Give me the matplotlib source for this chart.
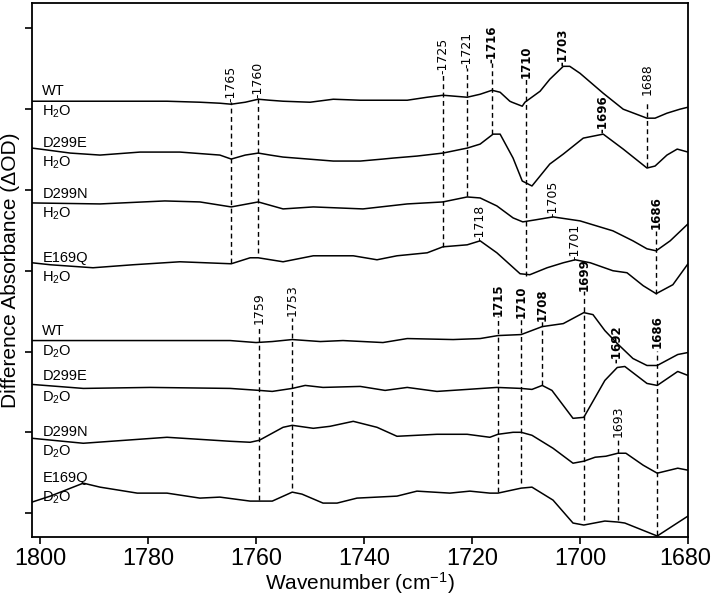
import matplotlib
matplotlib.use("Agg")
import matplotlib.pyplot as plt
import matplotlib.transforms as mtransforms
import numpy as np

plt.rcParams['font.family'] = ['Liberation Sans', 'DejaVu Sans']
plt.rcParams['mathtext.default'] = 'regular'

# ---------------- data (wavenumber in cm-1, signal in arbitrary stacked units) -------------
wt_h2o_x = [1801.5, 1788.9, 1776.5, 1770.4, 1766.7, 1764.6, 1762.0, 1759.6, 1757.5, 1755.0, 1750.0, 1745.7,
            1740.7, 1737.6, 1732.0, 1728.3, 1725.4, 1720.9, 1718.5, 1716.3, 1714.8, 1713.0, 1712.6, 1710.7,
            1710.2, 1707.4, 1705.6, 1703.1, 1701.9, 1700.0, 1695.7, 1692.0, 1687.6, 1686.1, 1683.9, 1681.5, 1680.0]
wt_h2o_y = [413, 413, 413, 412, 411, 410, 412, 415, 414, 413, 412, 415,
            414, 414, 414, 417, 419, 417, 420, 424, 422, 413, 412, 408,
            412, 423, 435, 448, 448, 441, 421, 405, 396, 396, 401, 405, 407]

d299e_h2o_x = [1801.5, 1800.0, 1794.4, 1788.9, 1781.5, 1774.1, 1766.7, 1764.6, 1762.0, 1759.6, 1757.4, 1755.0,
               1745.7, 1740.7, 1736.5, 1734.6, 1730.2, 1725.4, 1720.9, 1718.5, 1716.1, 1714.8, 1712.4, 1710.7,
               1708.9, 1705.6, 1703.1, 1699.4, 1695.7, 1692.0, 1687.6, 1686.1, 1683.9, 1682.0, 1680.0]
d299e_h2o_y = [366, 365, 361, 359, 362, 362, 359, 355, 359, 361, 359, 357,
               353, 353, 355, 356, 358, 361, 366, 370, 380, 380, 356, 333,
               328, 350, 360, 376, 380, 365, 346, 348, 359, 365, 362]

d299n_h2o_x = [1801.5, 1788.9, 1776.9, 1770.4, 1764.6, 1759.6, 1755.0, 1749.4, 1740.2, 1732.0, 1725.4, 1720.9,
               1718.5, 1715.4, 1712.4, 1710.6, 1708.3, 1705.0, 1700.0, 1693.9, 1690.2, 1687.6, 1685.9, 1683.3, 1680.0]
d299n_h2o_y = [311, 310, 313, 312, 307, 312, 305, 307, 305, 310, 312, 317,
               316, 308, 296, 292, 294, 297, 293, 283, 273, 265, 263, 273, 290]

e169q_h2o_x = [1801.5, 1798.1, 1790.2, 1782.8, 1774.1, 1764.6, 1761.1, 1759.6, 1755.0, 1749.4, 1742.0, 1737.6,
               1733.9, 1728.3, 1725.4, 1720.9, 1718.5, 1715.4, 1711.1, 1709.3, 1706.1, 1703.1, 1700.9, 1698.1,
               1693.9, 1691.3, 1688.3, 1685.9, 1682.8, 1680.0]
e169q_h2o_y = [251, 249, 246, 249, 252, 250, 256, 256, 252, 258, 258, 254,
               258, 261, 267, 269, 273, 261, 240, 239, 246, 251, 254, 251,
               243, 241, 228, 220, 229, 250]

wt_d2o_x = [1801.5, 1788.9, 1764.8, 1760.0, 1757.0, 1753.3, 1748.1, 1743.9, 1736.5, 1732.0, 1723.5, 1718.5,
            1715.2, 1710.9, 1707.0, 1703.1, 1699.3, 1697.6, 1695.4, 1693.1, 1690.2, 1687.6, 1685.7, 1681.9, 1680.0]
wt_d2o_y = [173, 173, 173, 171, 172, 174, 172, 173, 171, 175, 174, 175,
            178, 179, 187, 190, 201, 199, 183, 170, 155, 148, 148, 159, 161]

d299e_d2o_x = [1801.5, 1792.0, 1779.6, 1764.8, 1759.4, 1757.0, 1753.3, 1750.9, 1747.6, 1740.7, 1736.1, 1732.0,
               1726.5, 1720.9, 1715.4, 1710.9, 1708.9, 1707.0, 1705.2, 1701.3, 1699.3, 1695.4, 1693.1, 1691.7,
               1687.6, 1685.7, 1681.9, 1680.0]
d299e_d2o_y = [129, 125, 126, 125, 123, 122, 125, 128, 126, 127, 123, 126,
               122, 124, 126, 125, 124, 128, 123, 95, 96, 133, 146, 147,
               130, 128, 142, 138]

d299n_d2o_x = [1801.5, 1792.0, 1776.5, 1764.8, 1761.1, 1759.4, 1755.0, 1753.3, 1749.4, 1746.3, 1742.0, 1737.6,
               1733.9, 1726.5, 1720.9, 1716.7, 1715.2, 1712.4, 1710.9, 1708.9, 1705.0, 1701.3, 1699.3, 1697.2,
               1695.2, 1693.0, 1691.5, 1688.3, 1685.7, 1681.9, 1680.0]
d299n_d2o_y = [75, 70, 76, 72, 71, 73, 86, 88, 85, 87, 92, 86,
               77, 79, 79, 76, 79, 81, 81, 78, 65, 50, 52, 56,
               57, 60, 60, 48, 40, 45, 43]

e169q_d2o_x = [1801.5, 1798.1, 1792.0, 1788.9, 1782.0, 1776.5, 1770.4, 1766.7, 1761.1, 1757.0, 1753.3, 1751.5,
               1747.6, 1745.0, 1741.3, 1733.9, 1730.2, 1724.1, 1720.4, 1716.7, 1715.2, 1710.9, 1708.9, 1705.0,
               1701.3, 1699.3, 1695.4, 1693.0, 1691.7, 1685.7, 1682.0, 1680.0]
e169q_d2o_y = [11, 17, 30, 26, 20, 20, 15, 16, 12, 12, 21, 19,
               10, 10, 15, 17, 22, 20, 22, 20, 20, 25, 26, 13,
               -10, -12, -8, -9, -10, -23, -10, -3]

traces_x = [wt_h2o_x, d299e_h2o_x, d299n_h2o_x, e169q_h2o_x, wt_d2o_x, d299e_d2o_x, d299n_d2o_x, e169q_d2o_x]
traces_y = [wt_h2o_y, d299e_h2o_y, d299n_h2o_y, e169q_h2o_y, wt_d2o_y, d299e_d2o_y, d299n_d2o_y, e169q_d2o_y]

sample_names = ['WT', 'D299E', 'D299N', 'E169Q', 'WT', 'D299E', 'D299N', 'E169Q']
solvents = ['H$_2$O'] * 4 + ['D$_2$O'] * 4
name_y = [423, 371, 320, 256, 183, 137, 81, 35]
solvent_y = [402, 351, 300, 236, 162, 116, 61, 15]

# dashed marker lines: position, label, bold, label base, line top, line bottom
mark_pos = [1764.6, 1759.6, 1725.4, 1720.9, 1716.3, 1710.0, 1687.6, 1685.9,
            1759.4, 1753.3, 1715.2, 1710.9, 1707.0, 1699.3, 1685.7, 1693.0]
mark_text = ['-1765', '-1760', '-1725', '-1721', '-1716', '1710', '1688', '1686',
             '1759', '1753', '1715', '1710', '1708', '1699', '1686', '1693']
mark_bold = [False, False, False, False, True, True, False, True,
             False, False, True, True, True, True, True, False]
mark_top = [412, 416, 440, 446, 451, 436, 419, 285,
            190, 198, 198, 196, 193, 223, 166, 76]
mark_line_top = [412, 416, 440, 446, 451, 436, 413, 283,
                 188, 196, 198, 196, 193, 223, 163, 73]
mark_bottom = [251, 261, 267, 318, 380, 238, 347, 220,
               13, 25, 21, 30, 128, -7, -22, -7]

# peak labels sitting directly on the curves
peak_pos = [1703.1, 1695.7, 1705.0, 1718.5, 1700.9, 1693.1]
peak_text = ['-1703', '-1696', '-1705', '-1718', '-1701', '-1692']
peak_bold = [True, True, False, False, False, True]
peak_y = [448, 381, 297, 273, 254, 150]

xticks = [1800, 1780, 1760, 1740, 1720, 1700, 1680]
ytick_step = 81

# ---------------- figure -------------
fig = plt.figure(figsize=(7.11, 5.97), dpi=100)
ax = fig.add_axes([32 / 711, 1 - 537 / 597, 656 / 711, 534.5 / 597])

for xs, ys in zip(traces_x, traces_y):
    ax.plot(xs, ys, color='black', lw=1.1, solid_joinstyle='round')

for p, lt, lb in zip(mark_pos, mark_line_top, mark_bottom):
    ax.plot([p, p], [lb, lt], color='black', lw=1.0, linestyle=(0, (3.5, 2.5)))

for p, t, b, yt in zip(mark_pos, mark_text, mark_bold, mark_top):
    ax.text(p, yt, t, rotation=90, ha='center', va='bottom',
            fontsize=8.5 if b else 9, fontweight='bold' if b else 'normal',
            family='DejaVu Sans')

for p, t, b, yt in zip(peak_pos, peak_text, peak_bold, peak_y):
    ax.text(p, yt, t, rotation=90, ha='center', va='bottom',
            fontsize=8.5 if b else 9, fontweight='bold' if b else 'normal',
            family='DejaVu Sans')

for n, s, ny, sy in zip(sample_names, solvents, name_y, solvent_y):
    ax.text(1799.6, ny, n, ha='left', va='center', fontsize=10.5)
    ax.text(1799.6, sy, s, ha='left', va='center', fontsize=10.5)

ax.set_xlim(1801.5, 1680)
ax.set_ylim(-24, 512)
ax.set_xticks(xticks)
ax.set_xticklabels([str(v) for v in xticks], family=['Liberation Sans Narrow', 'Liberation Sans'],
                   fontsize=16.8)
ax.set_yticks(np.arange(0, 7) * ytick_step)
ax.set_yticklabels([])
ax.tick_params(axis='both', direction='out', length=5, width=1.2)
ax.tick_params(axis='x', pad=2.5)
for sp in ax.spines.values():
    sp.set_linewidth(1.3)

# nudge the last tick label so it stays inside the canvas
last_lbl = ax.get_xticklabels()[-1]
last_lbl.set_transform(last_lbl.get_transform() +
                       mtransforms.ScaledTranslation(-3 / 100, 0, fig.dpi_scale_trans))

ax.set_xlabel('Wavenumber (cm$^{-1}$)', fontsize=15, labelpad=0)
ax.set_ylabel('Difference Absorbance (ΔOD)', fontsize=15, labelpad=0)

fig.savefig('out.png', dpi=100)
